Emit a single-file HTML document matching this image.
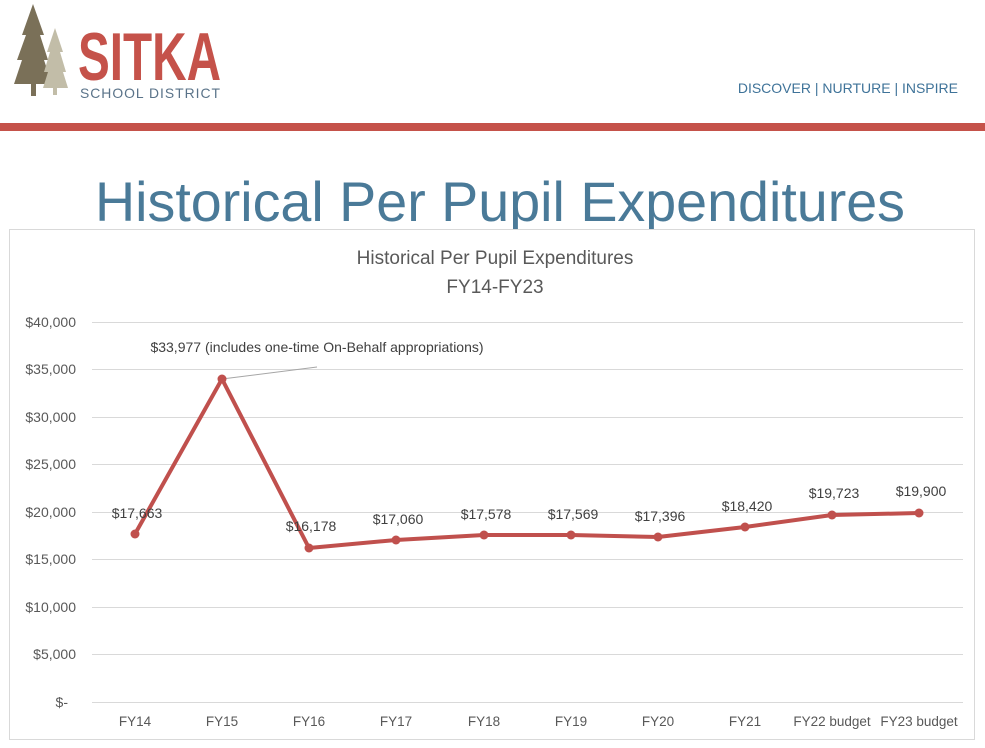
<!DOCTYPE html>
<html><head><meta charset="utf-8"><style>
body{margin:0;width:985px;height:743px;background:#fff;overflow:hidden;font-family:"Liberation Sans",sans-serif}
</style></head><body>
<svg width="985" height="743" xmlns="http://www.w3.org/2000/svg" font-family="Liberation Sans, sans-serif">
<rect width="985" height="743" fill="#fff"/>
<g>
<polygon points="33,4 22,35 26,35 17,60 22,60 14,84 31,84 31,96 36,96 36,84 52,84 44,60 48,60 40,35 44,35" fill="#7a7058"/>
<polygon points="55,28 47,52 50,52 44,72 48,72 43,88 53,88 53,95 57,95 57,88 68,88 63,72 66,72 60,52 63,52" fill="#c2bda8"/>
</g>
<text x="78" y="80" font-size="68" font-weight="bold" fill="#c5524a" textLength="143" lengthAdjust="spacingAndGlyphs">SITKA</text>
<text x="80" y="98" font-size="14" fill="#5a7389" textLength="141" lengthAdjust="spacingAndGlyphs" letter-spacing="1">SCHOOL DISTRICT</text>
<text x="958" y="93" font-size="14" fill="#3f7399" text-anchor="end">DISCOVER  |  NURTURE |  INSPIRE</text>
<rect x="0" y="123" width="985" height="8" fill="#c5524a"/>
<text x="500" y="221" font-size="56" fill="#4a7a98" text-anchor="middle" textLength="810" lengthAdjust="spacingAndGlyphs">Historical Per Pupil Expenditures</text>
<rect x="9.5" y="229.5" width="965" height="510" fill="#fff" stroke="#d9d9d9"/>
<text x="495" y="264" font-size="19" fill="#595959" text-anchor="middle">Historical Per Pupil Expenditures</text>
<text x="495" y="293" font-size="19" fill="#595959" text-anchor="middle">FY14-FY23</text>
<g stroke="#d9d9d9" stroke-width="1">
<line x1="92" x2="963" y1="322.5" y2="322.5"/><line x1="92" x2="963" y1="369.5" y2="369.5"/>
<line x1="92" x2="963" y1="417.5" y2="417.5"/><line x1="92" x2="963" y1="464.5" y2="464.5"/>
<line x1="92" x2="963" y1="512.5" y2="512.5"/><line x1="92" x2="963" y1="559.5" y2="559.5"/>
<line x1="92" x2="963" y1="607.5" y2="607.5"/><line x1="92" x2="963" y1="654.5" y2="654.5"/>
<line x1="92" x2="963" y1="702.5" y2="702.5"/>
</g>
<g font-size="14" fill="#595959" text-anchor="end">
<text x="76" y="327">$40,000</text><text x="76" y="374">$35,000</text><text x="76" y="422">$30,000</text>
<text x="76" y="469">$25,000</text><text x="76" y="517">$20,000</text><text x="76" y="564">$15,000</text>
<text x="76" y="612">$10,000</text><text x="76" y="659">$5,000</text><text x="68" y="707">$-</text>
</g>
<g font-size="13.5" fill="#595959" text-anchor="middle">
<text x="135" y="726">FY14</text><text x="222" y="726">FY15</text><text x="309" y="726">FY16</text>
<text x="396" y="726">FY17</text><text x="484" y="726">FY18</text><text x="571" y="726">FY19</text>
<text x="658" y="726">FY20</text><text x="745" y="726">FY21</text><text x="832" y="726">FY22 budget</text>
<text x="919" y="726">FY23 budget</text>
</g>
<line x1="222" y1="379" x2="317" y2="367" stroke="#a6a6a6" stroke-width="1"/>
<polyline fill="none" stroke="#c0504d" stroke-width="4" stroke-linejoin="round" points="135,534 222,379 309,548 396,540 484,535 571,535 658,537 745,527 832,515 919,513"/>
<g fill="#c0504d">
<circle cx="135" cy="534" r="4.5"/><circle cx="222" cy="379" r="4.5"/><circle cx="309" cy="548" r="4.5"/>
<circle cx="396" cy="540" r="4.5"/><circle cx="484" cy="535" r="4.5"/><circle cx="571" cy="535" r="4.5"/>
<circle cx="658" cy="537" r="4.5"/><circle cx="745" cy="527" r="4.5"/><circle cx="832" cy="515" r="4.5"/>
<circle cx="919" cy="513" r="4.5"/>
</g>
<g font-size="14" fill="#404040" text-anchor="middle">
<text x="317" y="352">$33,977 (includes one-time On-Behalf appropriations)</text>
<text x="137" y="518">$17,663</text><text x="311" y="531">$16,178</text><text x="398" y="524">$17,060</text>
<text x="486" y="519">$17,578</text><text x="573" y="519">$17,569</text><text x="660" y="521">$17,396</text>
<text x="747" y="511">$18,420</text><text x="834" y="498">$19,723</text><text x="921" y="496">$19,900</text>
</g>
</svg>
</body></html>
